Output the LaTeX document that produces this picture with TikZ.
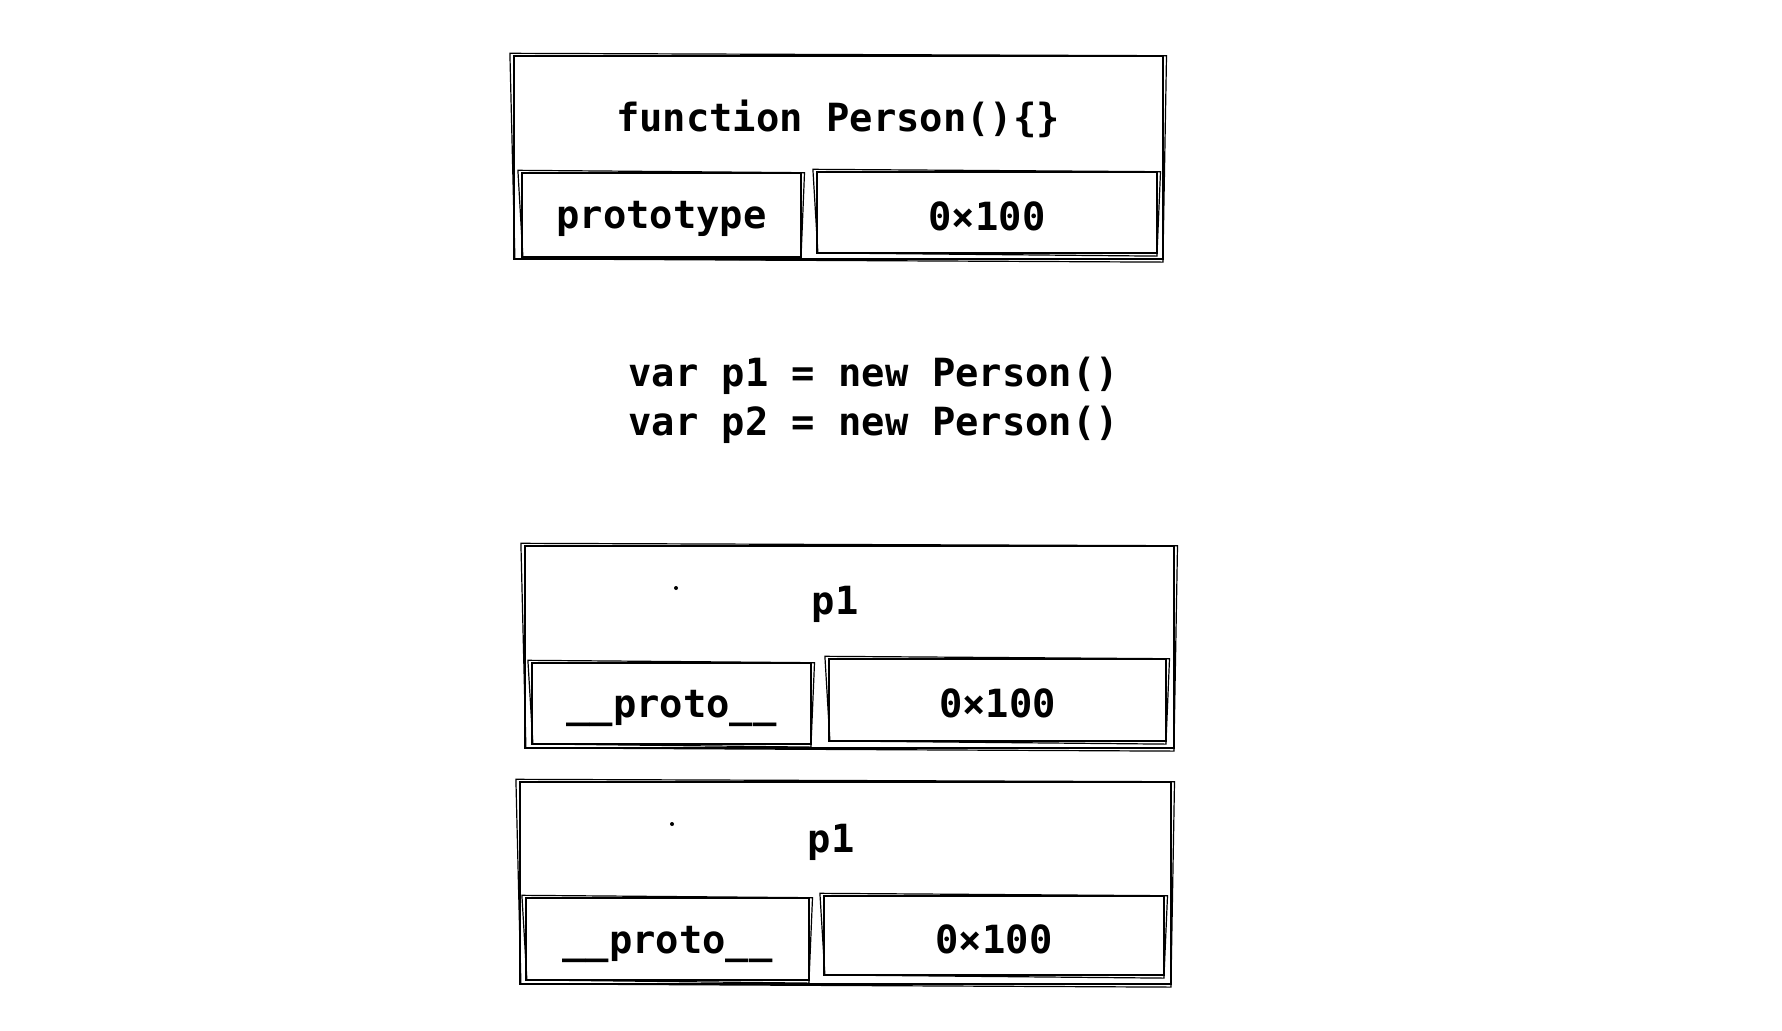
\documentclass[tikz,border=0pt]{standalone}
\usepackage{fontspec}
\setmonofont{DejaVu Sans Mono}
\begin{document}
\begin{tikzpicture}[x=0.5pt,y=-0.5pt,
  box/.style={draw=black, line width=1.1pt, inner sep=0pt, anchor=center},
  lbl/.style={inner sep=0pt, yshift=-1.8pt, font=\ttfamily\bfseries\fontsize{19.4pt}{24.5pt}\selectfont},
  sk/.style={draw=black, line width=0.6pt, line cap=round}]
\newcommand\roughbox[1]{%
  \draw[sk] ([shift={(-1.5pt,0.8pt)}]#1.north west) -- ([shift={(1.2pt,-0.4pt)}]#1.north east)
    -- ([shift={(-0.6pt,-1pt)}]#1.south east) -- ([shift={(1pt,0.6pt)}]#1.south west) -- cycle;}
\useasboundingbox[fill=white] (0,0) rectangle (1782,1030);

% Person function box
\node[box, minimum width=324.5pt, minimum height=101.5pt] (fn) at (838.5,157.5) {};
\node[box, minimum width=139.5pt, minimum height=42pt] (fnk) at (661.5,215) {};
\node[box, minimum width=170pt, minimum height=40.5pt] (fnv) at (987,212.5) {};
\roughbox{fn}\roughbox{fnk}\roughbox{fnv}
\node[lbl] (fnt) at (838,115) {function Person()\{\}};
\node[lbl] (fnkt) at (fnk) {prototype};
\node[lbl] (fnvt) at (fnv) {0×100};

% code
\node[lbl, anchor=west, align=left] (code) at (628,397) {var p1 = new Person()\\var p2 = new Person()};

% p1 box
\node[box, minimum width=324.5pt, minimum height=101pt] (pa) at (849.5,647) {};
\node[box, minimum width=139.5pt, minimum height=40.5pt] (pak) at (671.5,703.5) {};
\node[box, minimum width=168.5pt, minimum height=41pt] (pav) at (997.5,700) {};
\roughbox{pa}\roughbox{pak}\roughbox{pav}
\node[lbl] (pat) at (835,601) {p1};
\node[lbl, yshift=-0.8pt] (pakt) at (pak) {\_\_proto\_\_};
\node[lbl] (pavt) at (pav) {0×100};
\fill (676,588) circle (1pt);

% second p1 box
\node[box, minimum width=325.5pt, minimum height=101pt] (pb) at (845.5,883) {};
\node[box, minimum width=141.5pt, minimum height=41pt] (pbk) at (667.5,939) {};
\node[box, minimum width=170pt, minimum height=39.5pt] (pbv) at (994,935.5) {};
\roughbox{pb}\roughbox{pbk}\roughbox{pbv}
\node[lbl] (pbt) at (831,839) {p1};
\node[lbl, yshift=-0.8pt] (pbkt) at (pbk) {\_\_proto\_\_};
\node[lbl] (pbvt) at (pbv) {0×100};
\fill (672,824) circle (1pt);
\end{tikzpicture}
\end{document}
